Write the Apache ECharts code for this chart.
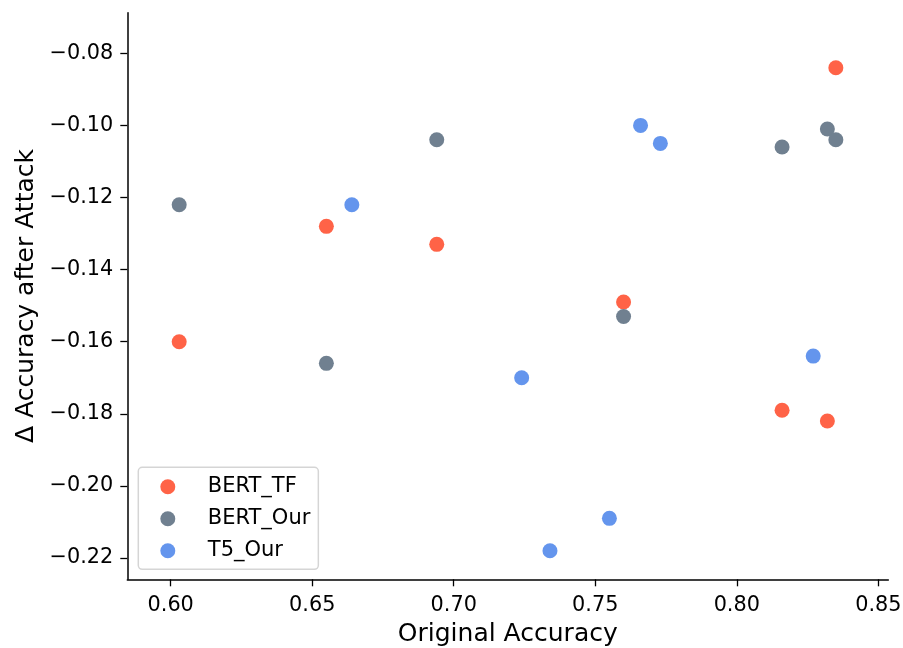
<!DOCTYPE html>
<html>
<head>
<meta charset="utf-8">
<script src="https://cdn.jsdelivr.net/npm/echarts@6/dist/echarts.min.js"></script>
<style>html,body{margin:0;padding:0;background:#fff}#c{width:903px;height:648px}</style>
</head>
<body>
<div id="c"></div>
<script>
const seriesNames = ['BERT_TF', 'BERT_Our', 'T5_Our'];
const bertTF_x = [0.603, 0.655, 0.694, 0.760, 0.816, 0.832, 0.835];
const bertTF_y = [-0.160, -0.128, -0.133, -0.149, -0.179, -0.182, -0.084];
const bertOur_x = [0.603, 0.655, 0.694, 0.760, 0.816, 0.832, 0.835];
const bertOur_y = [-0.122, -0.166, -0.104, -0.153, -0.106, -0.101, -0.104];
const t5Our_x = [0.664, 0.724, 0.734, 0.755, 0.766, 0.773, 0.827];
const t5Our_y = [-0.122, -0.170, -0.218, -0.209, -0.100, -0.105, -0.164];
const xTicks = [0.60, 0.65, 0.70, 0.75, 0.80, 0.85];
const yTicks = [-0.22, -0.20, -0.18, -0.16, -0.14, -0.12, -0.10, -0.08];
const colors = ['#FF6347', '#708090', '#6495ED'];

const zip = (xs, ys) => xs.map((x, i) => [x, ys[i]]);
const allData = [zip(bertTF_x, bertTF_y), zip(bertOur_x, bertOur_y), zip(t5Our_x, t5Our_y)];
const font = 'DejaVu Sans';
const chart = echarts.init(document.getElementById('c'), null, {renderer: 'canvas'});
chart.setOption({
  animation: false,
  backgroundColor: '#fff',
  textStyle: {fontFamily: font},
  grid: {left: 127.3, right: 14.7, top: 12.7, bottom: 68.7, containLabel: false, outerBoundsMode: 'none'},
  legend: {
    orient: 'vertical', left: 138.3, top: 467.3,
    itemWidth: 15, itemHeight: 15, itemGap: 11,
    padding: [9, 8, 8, 22],
    borderColor: '#d5d5d5', borderWidth: 1.5, borderRadius: 4,
    backgroundColor: 'rgba(255,255,255,0.8)',
    icon: 'circle',
    textStyle: {fontFamily: font, fontSize: 21, color: '#000', lineHeight: 21, padding: [0, 0, 0, 27.5]},
    data: seriesNames
  },
  xAxis: {
    type: 'value', min: 0.58467, max: 0.85353,
    name: 'Original Accuracy', nameLocation: 'middle', nameGap: 43,
    nameTextStyle: {fontFamily: font, fontSize: 25, color: '#000'},
    axisLine: {lineStyle: {color: '#000', width: 1.5}},
    axisTick: {show: true, length: 7, customValues: xTicks, lineStyle: {color: '#000', width: 1.3}},
    axisLabel: {customValues: xTicks, margin: 16, fontFamily: font, fontSize: 20.8, color: '#000',
      formatter: v => v.toFixed(2)},
    splitLine: {show: false}
  },
  yAxis: {
    type: 'value', min: -0.22591, max: -0.06874,
    name: 'Δ Accuracy after Attack', nameLocation: 'middle', nameGap: 82,
    nameTextStyle: {fontFamily: font, fontSize: 25, color: '#000'},
    axisLine: {show: true, lineStyle: {color: '#000', width: 1.5}},
    axisTick: {show: true, length: 7, customValues: yTicks, lineStyle: {color: '#000', width: 1.3}},
    axisLabel: {customValues: yTicks, margin: 14, fontFamily: font, fontSize: 20.8, color: '#000',
      formatter: v => v.toFixed(2).replace('-', '\u2212')},
    splitLine: {show: false}
  },
  series: seriesNames.map((n, i) => ({
    name: n, type: 'scatter', data: allData[i], symbolSize: 15,
    itemStyle: {color: colors[i], opacity: 1}
  }))
});
</script>
</body>
</html>
